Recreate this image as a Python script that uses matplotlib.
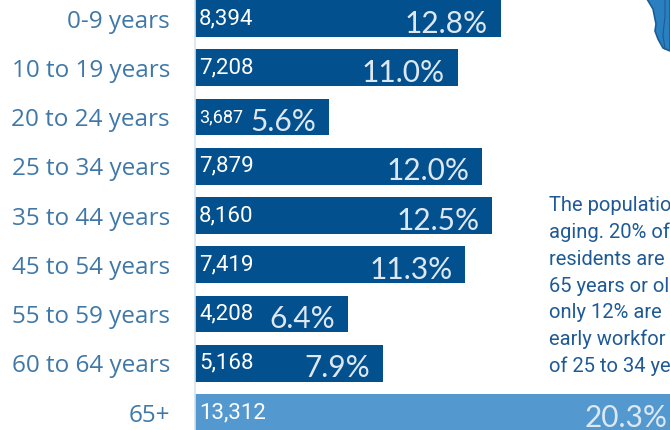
import matplotlib
matplotlib.use('Agg')
import matplotlib.pyplot as plt
from matplotlib.patches import Polygon
from matplotlib.transforms import ScaledTranslation

# Data
age_groups = ['0-9 years', '10 to 19 years', '20 to 24 years', '25 to 34 years', '35 to 44 years',
              '45 to 54 years', '55 to 59 years', '60 to 64 years', '65+']
counts = [8394, 7208, 3687, 7879, 8160, 7419, 4208, 5168, 13312]
shares = ['12.8%', '11.0%', '5.6%', '12.0%', '12.5%', '11.3%', '6.4%', '7.9%', '20.3%']
# The note runs off the right edge in the reference, only the visible part is kept
note_lines = ['The populatio', 'aging. 20% of', 'residents are', '65 years or ol',
              'only 12% are', 'early workfor', 'of 25 to 34 ye']

# Map corner, in pixels of the picture
map_outline = [(647, 0), (653, 10), (655, 20), (656, 25), (655, 32), (658, 40), (663, 49), (670, 52), (670, 0)]
map_border = [(665, 0), (665, 17), (663, 36), (665, 50)]

DARK = '#03508F'
LIGHT = '#5398CF'
LABEL = '#3F78A8'
NOTE = '#1F5A96'

fig = plt.figure(figsize=(6.7, 4.31), dpi=100)
ax = fig.add_axes([195 / 670, 0, 475 / 670, 1])

colors = [DARK] * 8 + [LIGHT]
positions = list(range(len(counts)))
ax.barh(positions, counts, height=0.75, color=colors)
ax.set_xlim(0, 13032)
ax.set_ylim(8.355, -0.396)

# Values at the bar start, share at the bar end
for i, (count, share) in enumerate(zip(counts, shares)):
    ax.annotate(f'{count:,}', (0, i), xytext=(4, 1), textcoords='offset pixels', color='white',
                family='Roboto', fontsize=13 if count == 3687 else 16, ha='left', va='center')
    ax.annotate(share, (count, i), xytext=(-13, -4), textcoords='offset pixels', color='#DDE8F2',
                family='Lato', fontsize=21.5, ha='right', va='center', annotation_clip=False)

for side in ['top', 'right', 'bottom']:
    ax.spines[side].set_visible(False)
ax.spines['left'].set_color('#D5E3EF')
ax.spines['left'].set_linewidth(1.2)
ax.xaxis.set_visible(False)
ax.set_yticks(positions, age_groups, family='Open Sans', fontsize=17.5, color=LABEL)
ax.tick_params(axis='y', length=0, pad=18)
for tick in ax.get_yticklabels():
    tick.set_transform(tick.get_transform() + ScaledTranslation(0, 1 / 100, fig.dpi_scale_trans))

# Overlay in pixel units for the note and the map
over = fig.add_axes([0, 0, 1, 1], facecolor='none')
over.set_xlim(0, 670)
over.set_ylim(431, 0)
over.axis('off')
over.add_patch(Polygon(map_outline, closed=True, facecolor='#2A7FC1', edgecolor='#1C5C94', linewidth=1.2))
over.plot(*zip(*map_border), color='#1C5C94', linewidth=0.8)

for i, line in enumerate(note_lines):
    over.text(549, 206 + i * 26.7, line, family='Roboto', fontsize=14.5, color=NOTE, ha='left', va='center')

fig.savefig('out.png', dpi=100)
